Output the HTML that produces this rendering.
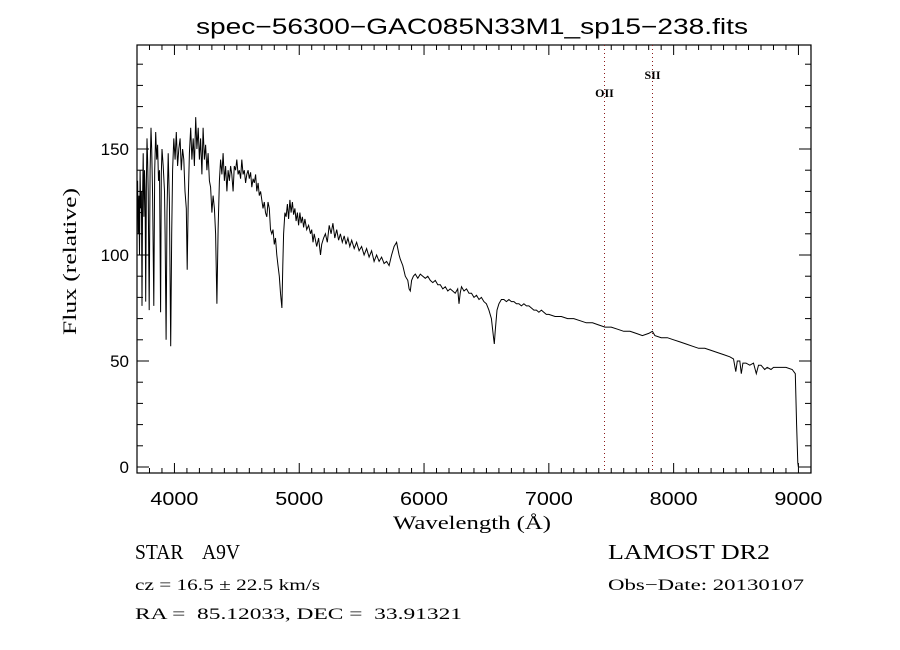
<!DOCTYPE html>
<html><head><meta charset="utf-8">
<style>
body{margin:0;background:#fff;width:900px;height:650px;overflow:hidden}
svg{display:block}
.sans{font-family:"Liberation Sans",sans-serif}
.serif{font-family:"Liberation Serif",serif}
text{white-space:pre}
</style></head>
<body>
<svg id="chart" width="900" height="650" xml:space="preserve">
<rect x="0" y="0" width="900" height="650" fill="#fff"/>
<text x="196" y="34" textLength="552" lengthAdjust="spacingAndGlyphs" class="sans" font-size="22">spec−56300−GAC085N33M1_sp15−238.fits</text>
<g id="axes"></g>
<g id="lines"></g>
<path id="spec" fill="none" stroke="#000" stroke-width="1"/>
<text x="393" y="529" textLength="158" lengthAdjust="spacingAndGlyphs" class="serif" font-size="19">Wavelength (Å)</text>
<text transform="translate(76,335) rotate(-90)" textLength="147" lengthAdjust="spacingAndGlyphs" class="serif" font-size="19">Flux (relative)</text>
<text x="135" y="559" textLength="105" lengthAdjust="spacingAndGlyphs" class="serif" font-size="21">STAR    A9V</text>
<text x="135" y="590" textLength="185" lengthAdjust="spacingAndGlyphs" class="serif" font-size="16">cz = 16.5 ± 22.5 km/s</text>
<text x="135" y="619" textLength="327" lengthAdjust="spacingAndGlyphs" class="serif" font-size="16">RA =  85.12033, DEC =  33.91321</text>
<text x="608" y="559" textLength="162" lengthAdjust="spacingAndGlyphs" class="serif" font-size="21">LAMOST DR2</text>
<text x="608" y="590" textLength="196" lengthAdjust="spacingAndGlyphs" class="serif" font-size="16">Obs−Date: 20130107</text>
</svg>
<script>
const xTicks=[4000,5000,6000,7000,8000,9000];
const yTicks=[0,50,100,150];
const lineNames=["OII","SII"];
const lineWaves=[7442,7827];
const lineLabelY=[97,79];
const wave=[3700,3705,3710,3715,3720,3725,3730,3735,3740,3745,3750,3755,3760,3765,3770,3775,3780,3785,3790,3798,3805,3812,3818,3825,3835,3842,3850,3858,3865,3872,3880,3889,3895,3900,3910,3920,3925,3933,3940,3950,3960,3970,3978,3985,3995,4005,4015,4025,4035,4045,4055,4065,4075,4085,4095,4102,4110,4120,4130,4140,4150,4160,4170,4180,4190,4200,4210,4220,4230,4240,4250,4260,4270,4280,4290,4300,4310,4320,4330,4340,4350,4360,4370,4380,4390,4400,4410,4420,4430,4440,4450,4460,4470,4480,4490,4500,4510,4520,4530,4540,4550,4560,4570,4580,4590,4600,4610,4620,4630,4640,4650,4660,4670,4680,4690,4700,4710,4720,4730,4740,4750,4760,4770,4780,4790,4800,4810,4820,4830,4840,4850,4861,4868,4875,4885,4895,4905,4915,4925,4935,4945,4955,4965,4975,4985,4995,5005,5015,5025,5035,5045,5060,5075,5090,5100,5110,5120,5140,5155,5170,5180,5195,5210,5225,5240,5255,5270,5285,5300,5315,5330,5345,5360,5375,5390,5405,5420,5440,5460,5480,5500,5520,5540,5560,5580,5600,5620,5640,5660,5680,5700,5720,5740,5760,5780,5790,5800,5810,5830,5850,5870,5880,5890,5900,5915,5930,5950,5970,5990,6010,6030,6050,6070,6090,6110,6130,6150,6170,6190,6210,6230,6250,6270,6280,6290,6300,6320,6340,6360,6380,6400,6420,6440,6460,6480,6500,6520,6540,6555,6563,6570,6585,6600,6620,6640,6660,6680,6700,6720,6740,6760,6780,6800,6820,6840,6860,6880,6900,6920,6940,6960,6980,7000,7050,7100,7150,7200,7250,7300,7350,7400,7450,7500,7550,7600,7650,7700,7750,7800,7830,7850,7900,7950,8000,8050,8100,8150,8200,8250,8300,8350,8400,8450,8480,8498,8510,8530,8542,8555,8580,8610,8640,8662,8680,8700,8730,8750,8780,8800,8830,8860,8900,8950,8975,8985,8995,9000];
const flux=[118,135,110,128,100,140,122,130,76,128,148,118,140,130,78,135,155,145,130,74,140,160,150,128,76,140,158,145,152,135,140,73,138,150,142,130,110,60,120,148,125,57,110,140,155,145,158,142,150,155,140,150,145,130,122,93,125,148,160,145,155,142,165,150,160,145,155,138,160,145,152,140,148,135,132,120,128,122,110,77,112,135,145,138,148,135,142,130,140,135,142,138,130,142,140,145,138,140,136,145,138,140,134,138,140,136,139,132,136,134,138,130,134,128,130,126,122,125,120,118,125,122,112,110,112,105,108,100,95,90,82,75,95,110,120,118,124,117,126,120,125,119,122,116,120,114,120,115,118,113,117,112,114,110,112,106,110,104,108,100,105,108,110,106,114,110,115,108,112,107,110,106,109,105,108,104,107,103,106,102,104,100,103,99,102,97,100,97,99,96,97,95,100,104,106,103,100,98,95,90,88,84,83,88,90,91,89,91,90,89,90,88,87,88,86,86,84,85,83,84,83,82,84,77,82,85,83,84,82,82,80,81,79,80,78,77,74,70,62,58,64,74,77,79,79,78,79,78,78,77,77,76,77,76,76,75,74,74,73,74,73,72,72,71,71,70,70,69,68,68,67,66,66,65,64,64,63,62,63,64,62,61,61,60,59,58,57,56,56,55,54,53,52,51,45,50,50,44,49,49,48,49,44,48,48,46,47,46,47,47,47,47,46,44,20,2,0];
const X0=137,XS=0.1248,W0=3700,Y0=467,YS=2.12;
const L=137,R=811,T=45,B=473;
const sx=w=>X0+(w-W0)*XS, sy=f=>Y0-f*YS;
const NS="http://www.w3.org/2000/svg";
const ax=document.getElementById('axes');
function mk(t,a,p){const e=document.createElementNS(NS,t);for(const k in a)e.setAttribute(k,a[k]);(p||ax).appendChild(e);return e;}
const fr=mk('rect',{x:L,y:T,width:R-L,height:B-T,fill:'none',stroke:'#000','stroke-width':1.2});


for(let w=3800;w<=9100;w+=100){const x=sx(w);const maj=w%1000===0;const len=maj?10:5;
 const t1=mk('line',{x1:x,y1:B,x2:x,y2:B-len,stroke:'#000'});
 
 
 const t2=mk('line',{x1:x,y1:T,x2:x,y2:T+len,stroke:'#000'});
 
 }
xTicks.forEach(w=>{const t=mk('text',{x:sx(w)-24,y:B+32,textLength:48,lengthAdjust:'spacingAndGlyphs','font-size':18,class:'sans'});t.textContent=w;
 
 });
for(let f=0;f<=190;f+=10){const y=sy(f);const maj=f%50===0;const len=maj?12:6;
 const t1=mk('line',{x1:L,y1:y,x2:L+len,y2:y,stroke:'#000'});
 
 
 const t2=mk('line',{x1:R,y1:y,x2:R-len,y2:y,stroke:'#000'});
 
 }
yTicks.forEach(f=>{const t=mk('text',{x:L-8,y:sy(f)+6,'text-anchor':'end','font-size':17,class:'sans'});t.textContent=f;
 
 });
const lg=document.getElementById('lines');
lineWaves.forEach((w,i)=>{const x=Math.round(sx(w))+0.5;
 const l=mk('line',{x1:x,y1:T,x2:x,y2:B,stroke:'#8b1a1a','stroke-dasharray':'1,3'},lg);
 
 
 const t=mk('text',{x:x,y:lineLabelY[i],'text-anchor':'middle','font-size':12,'font-weight':'bold',class:'serif'},lg);t.textContent=lineNames[i];
 
 });
let d='';wave.forEach((w,i)=>{d+=(i?'L':'M')+sx(w).toFixed(1)+','+sy(flux[i]).toFixed(1);});
document.getElementById('spec').setAttribute('d',d);
</script>
</body></html>
